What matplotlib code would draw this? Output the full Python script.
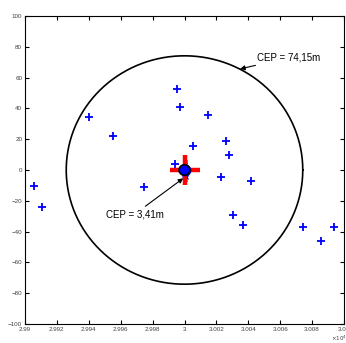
import numpy as np
import matplotlib
matplotlib.use("Agg")
import matplotlib.pyplot as plt

plt.rcParams['font.family'] = ['Liberation Sans', 'DejaVu Sans']

# Measurement points (x in metres-ish units, displayed as x 10^4)
pts_x = [29995.1, 29997.2, 30014.9, 29940.3, 29955.4, 30005.5, 30026.0, 30028.1,
         29994.0, 29905.8, 29910.4, 29974.8, 30022.7, 30041.5, 30030.2, 30036.9,
         30074.5, 30093.9, 30085.4]
pts_y = [52.6, 41.1, 35.7, 34.6, 22.3, 15.6, 18.8, 9.7,
         3.9, -10.4, -23.8, -10.8, -4.8, -6.9, -29.2, -35.7,
         -36.8, -37.2, -46.1]

# Small cluster of estimates near the centre
est_x = [30000.6, 30000.0, 30001.2, 30000.3, 29999.6, 30000.8]
est_y = [5.5, 4.2, -4.5, -6.0, -3.0, -2.0]

center_x = 30000.0
center_y = 0.0
cep_large = 74.15
cep_small = 3.41

xticks = [29900, 29920, 29940, 29960, 29980, 30000, 30020, 30040, 30060, 30080, 30100]
xticklabels = ['2.99', '2.992', '2.994', '2.996', '2.998', '3', '3.002', '3.004',
               '3.006', '3.008', '3.01']
yticks = [-100, -80, -60, -40, -20, 0, 20, 40, 60, 80, 100]

W, H = 346, 343
fig = plt.figure(figsize=(W / 100, H / 100), dpi=100)
ax = fig.add_axes([25 / W, 1 - 324 / H, (344 - 25) / W, (324 - 16) / H])

theta = np.linspace(0, 2 * np.pi, 400)
ax.plot(center_x + cep_large * np.cos(theta), center_y + cep_large * np.sin(theta),
        color='black', lw=1.2)

ax.plot(pts_x, pts_y, linestyle='none', marker='+', color='blue', ms=6, mew=1.3)
ax.plot(est_x, est_y, linestyle='none', marker='x', color='blue', ms=3, mew=1.0)

ax.plot([center_x], [center_y], marker='+', color='red', ms=21, mew=3.2, linestyle='none')
ax.plot([center_x], [center_y], marker='o', color='blue', ms=7.5, linestyle='none')
ax.plot(center_x + cep_small * np.cos(theta), center_y + cep_small * np.sin(theta),
        color='black', lw=1.2)

ax.annotate('CEP = 74,15m', xy=(30034.8, 65.6), xytext=(30045.5, 73.0),
            fontsize=7, ha='left', va='center',
            arrowprops=dict(arrowstyle='-|>', color='black', lw=0.8,
                            mutation_scale=7, shrinkA=0, shrinkB=0))
ax.annotate('CEP = 3,41m', xy=(29999.2, -5.4), xytext=(29987.0, -28.6),
            fontsize=7, ha='right', va='center',
            arrowprops=dict(arrowstyle='-|>', color='black', lw=0.8,
                            mutation_scale=7, shrinkA=0, shrinkB=0))

ax.set_xlim(29900, 30100)
ax.set_ylim(-100, 100)
ax.set_xticks(xticks)
ax.set_xticklabels(xticklabels)
ax.set_yticks(yticks)
ax.tick_params(direction='in', top=True, right=True, length=3, width=0.8,
               labelsize=4.5, labelcolor='#404040', pad=2)
for s in ax.spines.values():
    s.set_linewidth(0.8)

fig.text(331 / W, 1 - 338 / H, r'$\times10^4$', fontsize=4, color='#404040',
         ha='left', va='center')

fig.savefig('out.png', dpi=100)
